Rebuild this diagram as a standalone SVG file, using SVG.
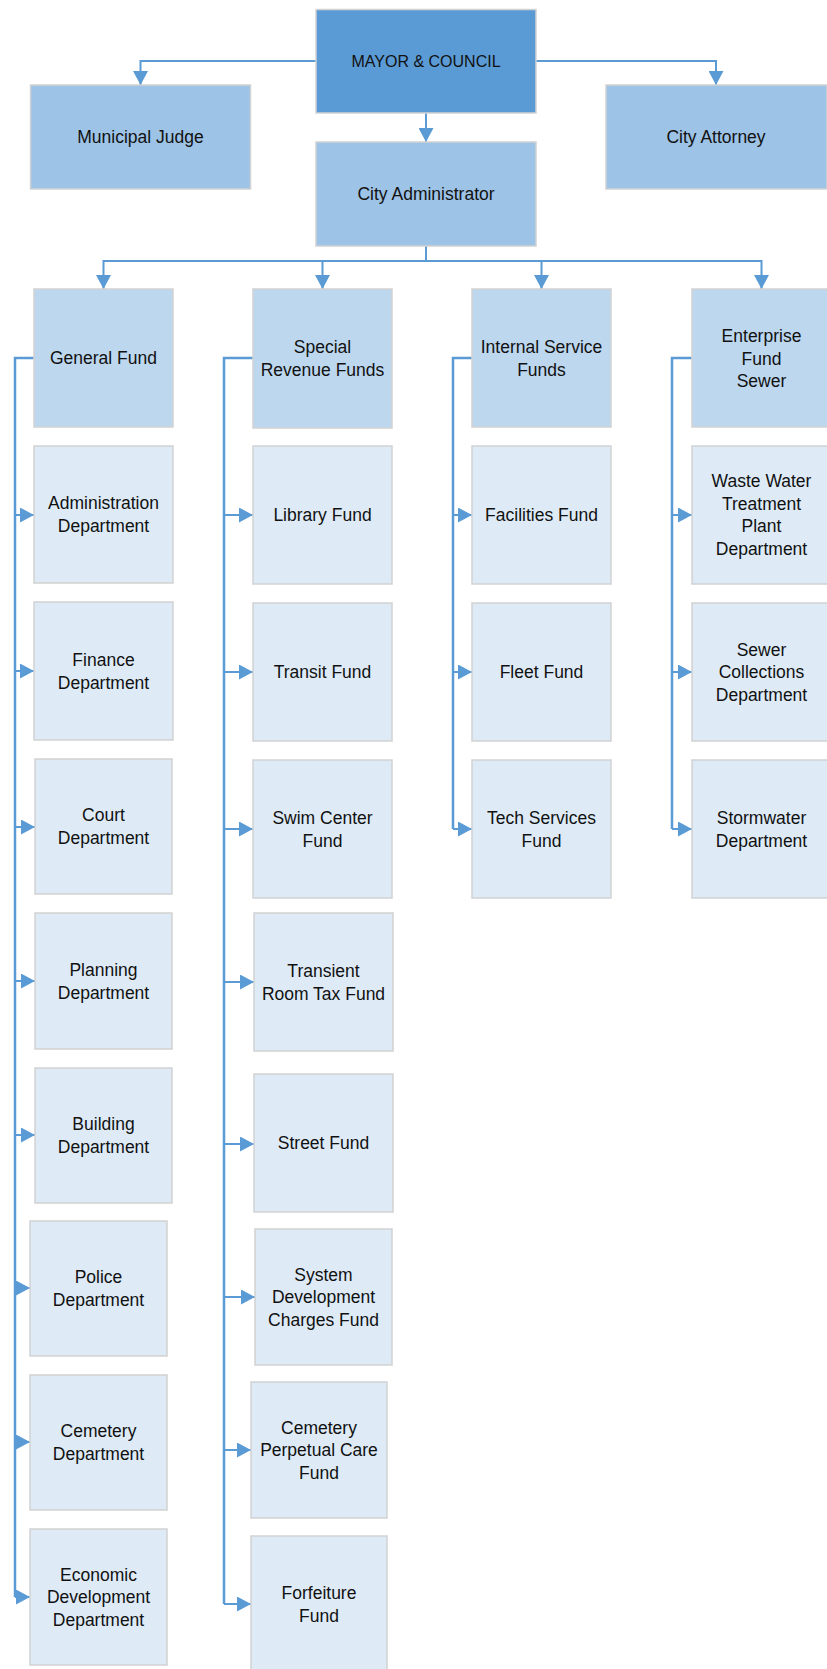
<svg xmlns="http://www.w3.org/2000/svg" width="827" height="1669" viewBox="0 0 827 1669">
<defs>
<marker id="arr" markerUnits="userSpaceOnUse" markerWidth="15" markerHeight="15" refX="14" refY="7.5" orient="auto"><path d="M0,0 L14,7.5 L0,15 z" fill="#5B9BD5"/></marker>
<style>
.b{stroke:#D2D2D2;stroke-width:1.5}
.top{fill:#5B9BD5}
.l2{fill:#9DC3E6}
.fund{fill:#BDD7EE}
.dep{fill:#DEEBF7}
text{font-family:"Liberation Sans",Arial,sans-serif;font-size:17.5px;fill:#111;text-anchor:middle}
.c{fill:none;stroke:#5B9BD5;stroke-width:2}
.s{fill:none;stroke:#5B9BD5;stroke-width:2.5}
</style>
</defs>
<rect width="827" height="1669" fill="#fff"/>
<g id="connectors">
<path class="c" d="M316,61 H140.5 V85" marker-end="url(#arr)"/>
<path class="c" d="M536,61 H716 V85" marker-end="url(#arr)"/>
<path class="c" d="M426,113 V142" marker-end="url(#arr)"/>
<path class="c" d="M426,246 V261 H103.5 V289" marker-end="url(#arr)"/>
<path class="c" d="M426,261 H322.5 V289" marker-end="url(#arr)"/>
<path class="c" d="M426,261 H541.5 V289" marker-end="url(#arr)"/>
<path class="c" d="M426,261 H761.5 V289" marker-end="url(#arr)"/>
<path class="s" d="M34,358 H15 V1597"/>
<path class="c" d="M15,515 H34" marker-end="url(#arr)"/>
<path class="c" d="M15,671 H34" marker-end="url(#arr)"/>
<path class="c" d="M15,827 H35" marker-end="url(#arr)"/>
<path class="c" d="M15,981 H35" marker-end="url(#arr)"/>
<path class="c" d="M15,1135 H35" marker-end="url(#arr)"/>
<path class="c" d="M15,1288 H30" marker-end="url(#arr)"/>
<path class="c" d="M15,1442 H30" marker-end="url(#arr)"/>
<path class="c" d="M15,1597 H30" marker-end="url(#arr)"/>
<path class="s" d="M253,358 H224 V1604"/>
<path class="c" d="M224,515 H253" marker-end="url(#arr)"/>
<path class="c" d="M224,672 H253" marker-end="url(#arr)"/>
<path class="c" d="M224,829 H253" marker-end="url(#arr)"/>
<path class="c" d="M224,982 H254" marker-end="url(#arr)"/>
<path class="c" d="M224,1144 H254" marker-end="url(#arr)"/>
<path class="c" d="M224,1297 H255" marker-end="url(#arr)"/>
<path class="c" d="M224,1450 H251" marker-end="url(#arr)"/>
<path class="c" d="M224,1604 H251" marker-end="url(#arr)"/>
<path class="s" d="M472,358 H453 V829"/>
<path class="c" d="M453,515 H472" marker-end="url(#arr)"/>
<path class="c" d="M453,672 H472" marker-end="url(#arr)"/>
<path class="c" d="M453,829 H472" marker-end="url(#arr)"/>
<path class="s" d="M692,358 H672 V829"/>
<path class="c" d="M672,515 H692" marker-end="url(#arr)"/>
<path class="c" d="M672,672 H692" marker-end="url(#arr)"/>
<path class="c" d="M672,829 H692" marker-end="url(#arr)"/>
</g>
<g id="mayor"><rect class="top b" x="316" y="9.5" width="220" height="103.5"/><text x="426" y="67" style="font-size:16px">MAYOR &amp; COUNCIL</text></g>
<g id="judge"><rect class="l2 b" x="30.5" y="85" width="220" height="104"/><text x="140.5" y="143">Municipal Judge</text></g>
<g id="attorney"><rect class="l2 b" x="606" y="85" width="221" height="104"/><text x="716" y="143">City Attorney</text></g>
<g id="administrator"><rect class="l2 b" x="316" y="142" width="220" height="104"/><text x="426" y="200">City Administrator</text></g>
<g id="general-fund"><rect class="fund b" x="34" y="289" width="139" height="138"/><text x="103.5" y="364">General Fund</text></g>
<g id="special-revenue"><rect class="fund b" x="253" y="289" width="139" height="139"/><text><tspan x="322.5" y="353">Special</tspan><tspan x="322.5" y="376">Revenue Funds</tspan></text></g>
<g id="internal-service"><rect class="fund b" x="472" y="289" width="139" height="138"/><text><tspan x="541.5" y="353">Internal Service</tspan><tspan x="541.5" y="376">Funds</tspan></text></g>
<g id="enterprise"><rect class="fund b" x="692" y="289" width="139" height="138"/><text><tspan x="761.5" y="342">Enterprise</tspan><tspan x="761.5" y="364.5">Fund</tspan><tspan x="761.5" y="387">Sewer</tspan></text></g>
<g id="administration"><rect class="dep b" x="34" y="446" width="139" height="137"/><text><tspan x="103.5" y="509">Administration</tspan><tspan x="103.5" y="532">Department</tspan></text></g>
<g id="finance"><rect class="dep b" x="34" y="602" width="139" height="138"/><text><tspan x="103.5" y="665.5">Finance</tspan><tspan x="103.5" y="688.5">Department</tspan></text></g>
<g id="court"><rect class="dep b" x="35" y="759" width="137" height="135"/><text><tspan x="103.5" y="821">Court</tspan><tspan x="103.5" y="844">Department</tspan></text></g>
<g id="planning"><rect class="dep b" x="35" y="913" width="137" height="136"/><text><tspan x="103.5" y="975.5">Planning</tspan><tspan x="103.5" y="998.5">Department</tspan></text></g>
<g id="building"><rect class="dep b" x="35" y="1068" width="137" height="135"/><text><tspan x="103.5" y="1130">Building</tspan><tspan x="103.5" y="1153">Department</tspan></text></g>
<g id="police"><rect class="dep b" x="30" y="1221" width="137" height="135"/><text><tspan x="98.5" y="1283">Police</tspan><tspan x="98.5" y="1306">Department</tspan></text></g>
<g id="cemetery"><rect class="dep b" x="30" y="1375" width="137" height="135"/><text><tspan x="98.5" y="1437">Cemetery</tspan><tspan x="98.5" y="1460">Department</tspan></text></g>
<g id="economic"><rect class="dep b" x="30" y="1529" width="137" height="136"/><text><tspan x="98.5" y="1580.5">Economic</tspan><tspan x="98.5" y="1603">Development</tspan><tspan x="98.5" y="1625.5">Department</tspan></text></g>
<g id="library"><rect class="dep b" x="253" y="446" width="139" height="138"/><text x="322.5" y="521">Library Fund</text></g>
<g id="transit"><rect class="dep b" x="253" y="603" width="139" height="138"/><text x="322.5" y="678">Transit Fund</text></g>
<g id="swim"><rect class="dep b" x="253" y="760" width="139" height="138"/><text><tspan x="322.5" y="823.5">Swim Center</tspan><tspan x="322.5" y="846.5">Fund</tspan></text></g>
<g id="transient"><rect class="dep b" x="254" y="913" width="139" height="138"/><text><tspan x="323.5" y="976.5">Transient</tspan><tspan x="323.5" y="999.5">Room Tax Fund</tspan></text></g>
<g id="street"><rect class="dep b" x="254" y="1074" width="139" height="138"/><text x="323.5" y="1149">Street Fund</text></g>
<g id="sdc"><rect class="dep b" x="255" y="1229" width="137" height="136"/><text><tspan x="323.5" y="1280.5">System</tspan><tspan x="323.5" y="1303">Development</tspan><tspan x="323.5" y="1325.5">Charges Fund</tspan></text></g>
<g id="perpetual"><rect class="dep b" x="251" y="1382" width="136" height="136"/><text><tspan x="319" y="1433.5">Cemetery</tspan><tspan x="319" y="1456">Perpetual Care</tspan><tspan x="319" y="1478.5">Fund</tspan></text></g>
<g id="forfeiture"><rect class="dep b" x="251" y="1536" width="136" height="138"/><text><tspan x="319" y="1599">Forfeiture</tspan><tspan x="319" y="1622">Fund</tspan></text></g>
<g id="facilities"><rect class="dep b" x="472" y="446" width="139" height="138"/><text x="541.5" y="521">Facilities Fund</text></g>
<g id="fleet"><rect class="dep b" x="472" y="603" width="139" height="138"/><text x="541.5" y="678">Fleet Fund</text></g>
<g id="tech"><rect class="dep b" x="472" y="760" width="139" height="138"/><text><tspan x="541.5" y="823.5">Tech Services</tspan><tspan x="541.5" y="846.5">Fund</tspan></text></g>
<g id="wastewater"><rect class="dep b" x="692" y="446" width="139" height="138"/><text><tspan x="761.5" y="487">Waste Water</tspan><tspan x="761.5" y="509.5">Treatment</tspan><tspan x="761.5" y="532">Plant</tspan><tspan x="761.5" y="554.5">Department</tspan></text></g>
<g id="sewer"><rect class="dep b" x="692" y="603" width="139" height="138"/><text><tspan x="761.5" y="655.5">Sewer</tspan><tspan x="761.5" y="678">Collections</tspan><tspan x="761.5" y="700.5">Department</tspan></text></g>
<g id="stormwater"><rect class="dep b" x="692" y="760" width="139" height="138"/><text><tspan x="761.5" y="823.5">Stormwater</tspan><tspan x="761.5" y="846.5">Department</tspan></text></g>
</svg>
